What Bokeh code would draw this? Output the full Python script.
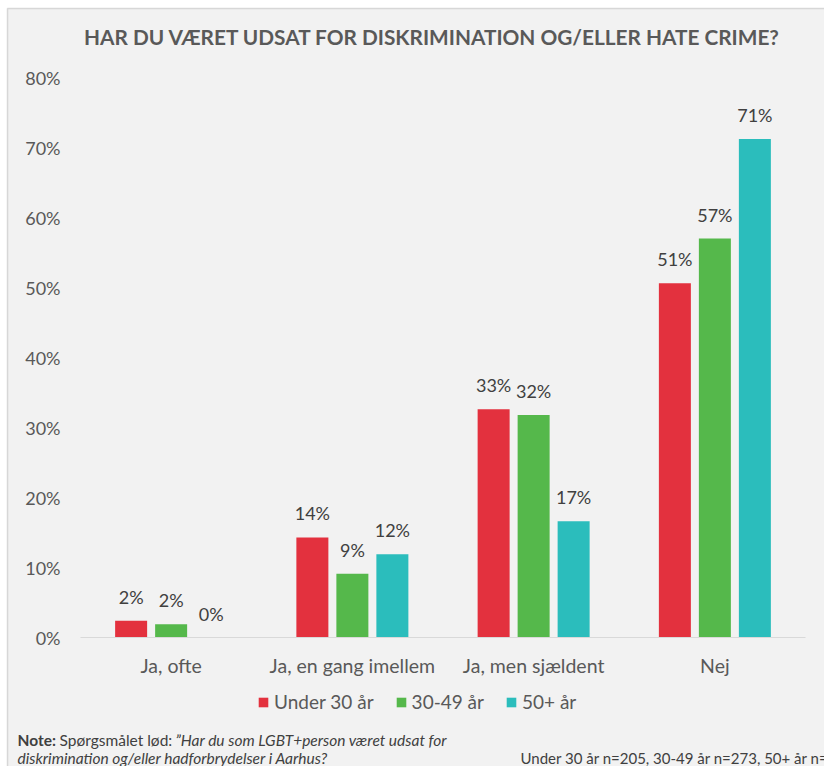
from bokeh.plotting import figure
from bokeh.models import (ColumnDataSource, Range1d, LabelSet, Label, BoxAnnotation,
                          FixedTicker, PrintfTickFormatter)
from bokeh.core.properties import value
from bokeh.transform import dodge
from bokeh.embed import file_html
from bokeh.resources import INLINE

# ---- data ----
categories = ["Ja, ofte", "Ja, en gang imellem", "Ja, men sjældent", "Nej"]
under30 = [2.4, 14.3, 32.6, 50.6]
age30_49 = [1.9, 9.1, 31.8, 57.0]
age50plus = [0.0, 11.9, 16.6, 71.2]
series_names = ["Under 30 år", "30-49 år", "50+ år"]
y_ticks = [0, 10, 20, 30, 40, 50, 60, 70, 80]

title_text = "HAR DU VÆRET UDSAT FOR DISKRIMINATION OG/ELLER HATE CRIME?"
note_bold = "Note:"
note_plain = "Spørgsmålet lød:"
note_italic1 = "”Har du som LGBT+person været udsat for"
note_italic2 = "diskrimination og/eller hadforbrydelser i Aarhus?"
note_n = "Under 30 år n=205, 30-49 år n=273, 50+ år n=42"

colors = ["#E3313E", "#55B84B", "#2BBDBC"]
FONT = "Lato"
BG = "#F2F2F2"

# ---- layout (pixels) ----
W, H = 824, 766
PX_LEFT, PX_RIGHT, PX_TOP, PX_BOTTOM = 80, 805, 77, 637
ncat = len(categories)
px_per_cat = (PX_RIGHT - PX_LEFT) / ncat
px_per_pct = (PX_BOTTOM - PX_TOP) / 80.0
x_start = -0.5 - PX_LEFT / px_per_cat
x_end = x_start + W / px_per_cat
y_end = 80 + PX_TOP / px_per_pct
y_start = y_end - H / px_per_pct

xi = list(range(ncat))
src = ColumnDataSource(dict(
    xi=xi,
    s0=under30, s1=age30_49, s2=age50plus,
    l0=[f"{round(v)}%" for v in under30],
    l1=[f"{round(v)}%" for v in age30_49],
    l2=[f"{round(v)}%" for v in age50plus],
))

p = figure(
    x_range=Range1d(x_start, x_end),
    y_range=Range1d(y_start, y_end),
    width=W, height=H,
    min_border=0,
    output_backend="svg", toolbar_location=None,
    background_fill_color="white", border_fill_color="white",
)
p.outline_line_color = None
p.grid.visible = False

# chart panel background with left/top border
p.add_layout(BoxAnnotation(left=7, right=W + 50, bottom=-50, top=H - 8,
                           left_units="screen", right_units="screen",
                           bottom_units="screen", top_units="screen",
                           fill_color=BG, fill_alpha=1, line_color="#8C8C8C",
                           line_width=1.5, level="underlay"))

offsets = [-40 / px_per_cat, 0.0, 40 / px_per_cat]
bw = 32 / px_per_cat
for i, (name, col) in enumerate(zip(series_names, colors)):
    p.vbar(x=dodge("xi", offsets[i]), top=f"s{i}", width=bw,
           source=src, fill_color=col, line_color=None, legend_label=name)
    ls = LabelSet(x=dodge("xi", offsets[i]), y=f"s{i}", text=f"l{i}",
                  source=src, text_align="center", text_baseline="alphabetic",
                  y_offset=17, text_font=value(FONT), text_font_size="18px",
                  text_color="#404040")
    p.add_layout(ls)

# axes
p.yaxis.fixed_location = -0.5
p.yaxis.ticker = FixedTicker(ticks=y_ticks)
p.yaxis.formatter = PrintfTickFormatter(format="%d%%")
p.yaxis.axis_line_color = None
p.yaxis.major_tick_line_color = None
p.yaxis.minor_tick_line_color = None
p.yaxis.major_tick_out = 0
p.yaxis.major_tick_in = 0
p.yaxis.major_label_standoff = 20
p.yaxis.major_label_text_font = FONT
p.yaxis.major_label_text_font_size = "18px"
p.yaxis.major_label_text_color = "#595959"

p.xaxis.fixed_location = 0
p.xaxis.bounds = (-0.5, ncat - 0.5)
p.xaxis.ticker = FixedTicker(ticks=xi)
p.xaxis.major_label_overrides = {i: c for i, c in zip(xi, categories)}
p.xaxis.axis_line_color = "#D9D9D9"
p.xaxis.axis_line_width = 1
p.xaxis.major_tick_line_color = None
p.xaxis.minor_tick_line_color = None
p.xaxis.major_tick_out = 0
p.xaxis.major_tick_in = 0
p.xaxis.major_label_standoff = 16
p.xaxis.major_label_text_font = FONT
p.xaxis.major_label_text_font_size = "19.5px"
p.xaxis.major_label_text_color = "#595959"

# legend
lg = p.legend[0]
lg.orientation = "horizontal"
lg.location = (257, H - 713)
lg.background_fill_alpha = 0
lg.border_line_color = None
lg.padding = 0
lg.margin = 0
lg.glyph_width = 12
lg.glyph_height = 12
lg.label_height = 20
lg.label_standoff = 5
lg.spacing = 21
lg.label_text_font = FONT
lg.label_text_font_size = "19px"
lg.label_text_color = "#595959"

# title
p.add_layout(Label(x=432, y=H - 36, x_units="screen", y_units="screen", text=title_text,
                   text_align="center", text_baseline="middle", text_font=FONT,
                   text_font_style="bold", text_font_size="20.8px", text_color="#595959"))

# notes
def note(x, y, t, style="normal", size="15.5px"):
    p.add_layout(Label(x=x, y=H - y, x_units="screen", y_units="screen", text=t,
                       text_align="left", text_baseline="alphabetic", text_font=FONT,
                       text_font_style=style, text_font_size=size,
                       text_color="#404040"))

note(17, 739, note_bold, "bold")
note(59, 739, note_plain)
note(175, 739, note_italic1, "italic")
note(17, 757, note_italic2, "italic")
note(520, 757, note_n, size="15px")

open("out.html", "w").write(file_html(p, INLINE))
